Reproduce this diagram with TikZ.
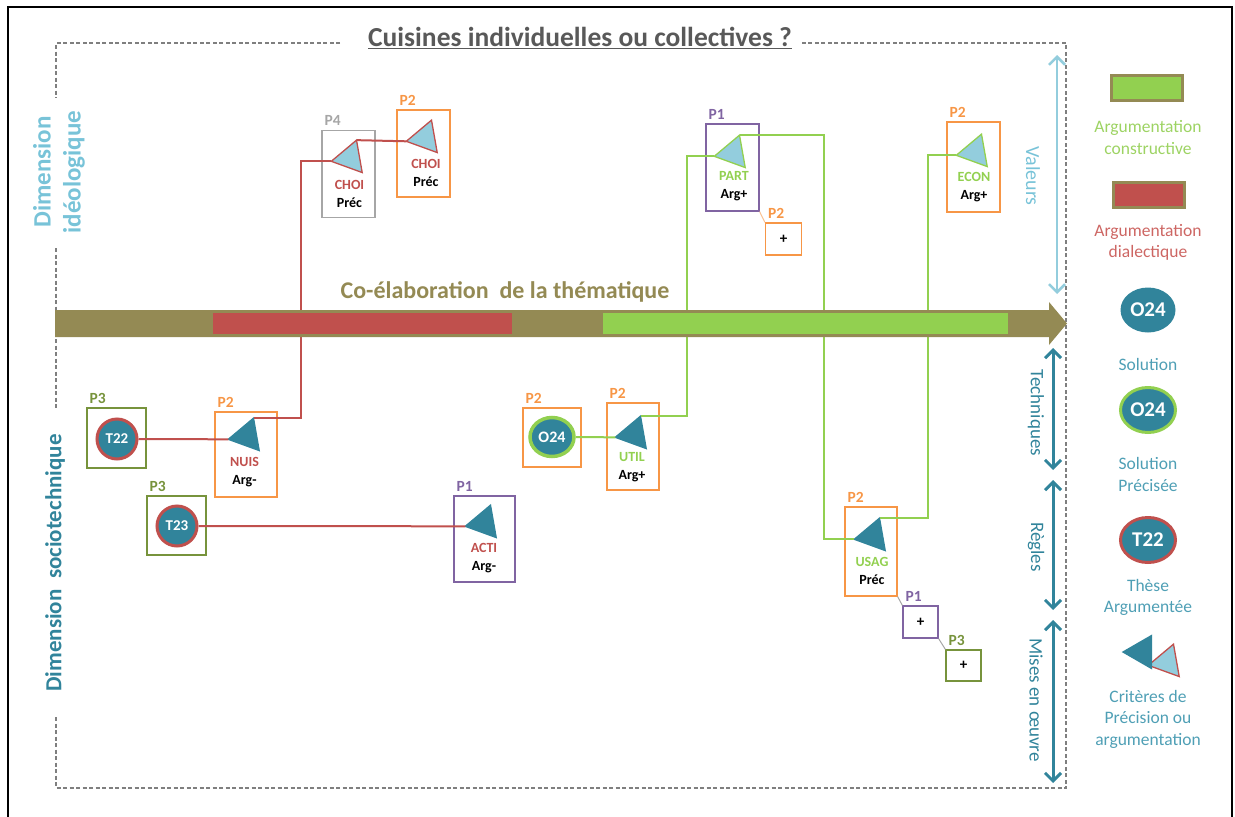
\documentclass[tikz,border=0pt]{standalone}
\usepackage{fontspec}
\setmainfont{Carlito}
\usepackage{tikz}
\usetikzlibrary{arrows.meta,shapes.geometric}

\definecolor{cTeal}{HTML}{31849B}
\definecolor{cTealTxt}{HTML}{4F9FB5}
\definecolor{cSky}{HTML}{93CDDD}
\definecolor{cSkyTxt}{HTML}{78C3D8}
\definecolor{cRed}{HTML}{C0504D}
\definecolor{cRedTxt}{HTML}{CD6663}
\definecolor{cGreen}{HTML}{92D050}
\definecolor{cGreenTxt}{HTML}{9DD363}
\definecolor{cOlive}{HTML}{948A54}
\definecolor{cOrange}{HTML}{F79646}
\definecolor{cPurple}{HTML}{8064A2}
\definecolor{cMoss}{HTML}{77933C}
\definecolor{cGrayBox}{HTML}{A6A6A6}
\definecolor{cFrame}{HTML}{7F7F7F}
\definecolor{cTitle}{HTML}{595959}

\begin{document}
\begin{tikzpicture}[x=1pt, y=-1pt,
  pbox/.style={draw, line width=1.3pt, inner sep=0pt, minimum width=53pt, minimum height=87pt},
  plbl/.style={font=\fontsize{15.5}{17}\selectfont\bfseries, inner sep=1pt, anchor=south west, xshift=2pt, yshift=3pt},
  pOne/.style={draw=cPurple, label={[plbl, text=cPurple]north west:P1}},
  pTwo/.style={draw=cOrange, label={[plbl, text=cOrange]north west:P2}},
  pThree/.style={draw=cMoss, label={[plbl, text=cMoss]north west:P3}},
  pFour/.style={draw=cGrayBox, label={[plbl, text=cGrayBox]north west:P4}},
  plusbox/.style={pbox, minimum width=36pt, minimum height=32pt, font=\fontsize{15}{16}\selectfont\bfseries},
  crit/.style={regular polygon, regular polygon sides=3, shape border rotate=100, minimum size=38pt, inner sep=0pt, outer sep=0pt, line width=1.3pt},
  code/.style={align=center, inner sep=0pt, font=\fontsize{14}{18}\selectfont\bfseries},
  these/.style={circle, fill=cTeal, draw=cRed, line width=3pt, minimum size=40pt, inner sep=0pt, text=white, font=\fontsize{15}{16}\selectfont\bfseries},
  solp/.style={ellipse, fill=cTeal, draw=cGreen, line width=3.5pt, minimum width=44pt, minimum height=39pt, inner sep=0pt, text=white, font=\fontsize{16}{17}\selectfont\bfseries},
  redln/.style={cRed, line width=2pt},
  grnln/.style={cGreen, line width=2pt},
  link/.style={line width=1pt},
  frame/.style={cFrame, line width=1.2pt, dash pattern=on 4pt off 2.5pt},
  dimarr/.style={cTeal, line width=3pt, {Straight Barb[length=8pt,width=16pt]}-{Straight Barb[length=8pt,width=16pt]}},
  dimtxt/.style={cTeal, rotate=-90, font=\fontsize{19}{20}\selectfont},
  legbar/.style={draw=cOlive, line width=3pt, minimum width=71pt, minimum height=25pt, inner sep=0pt},
  legtxt/.style={align=center, text=cTealTxt, inner sep=0pt, font=\fontsize{17.5}{21.5}\selectfont},
  legsol/.style={ellipse, fill=cTeal, minimum width=55pt, minimum height=45pt, inner sep=0pt, text=white, font=\fontsize{21}{22}\selectfont\bfseries}
]
\useasboundingbox (0,0) rectangle (1235,817);
\draw[line width=2pt] (8,7) rectangle (1232,830);

\node[text=cTitle, font=\fontsize{27.5}{31}\selectfont\bfseries] (title) at (580,38) {\underline{Cuisines individuelles ou collectives ?}};
\draw[frame] (340,43) -- (56,43) -- (56,98);
\draw[frame] (56,248) -- (56,410);
\draw[frame] (56,717) -- (56,788) -- (1066,788) -- (1066,43) -- (800,43);

\node[rotate=90, align=center, text=cSkyTxt, font=\fontsize{25}{30}\selectfont\bfseries] (dimIdeo) at (59,172) {Dimension\\idéologique};
\node[rotate=90, text=cTeal, font=\fontsize{23}{25}\selectfont\bfseries] (dimSocio) at (55,563) {Dimension\ \ sociotechnique};

\node[pbox, pFour] (choiA) at (348.5,174) {};
\node[pbox, pTwo] (choiB) at (423.5,153.5) {};
\node[pbox, pThree, minimum width=59pt, minimum height=60pt] (t22b) at (116.5,438) {};
\node[pbox, pThree, minimum width=59pt, minimum height=59pt] (t23b) at (176.5,525.5) {};
\node[pbox, pTwo, minimum width=62pt, minimum height=85pt] (nuis) at (246,454.5) {};
\node[pbox, pOne, minimum width=61pt, minimum height=86pt] (acti) at (484.5,539) {};
\node[pbox, pTwo, minimum width=58pt, minimum height=59pt] (o24b) at (552,437.5) {};
\node[pbox, pTwo, minimum width=52pt] (util) at (633,446.5) {};
\node[pbox, pOne] (part) at (732.5,167.5) {};
\node[plusbox, pTwo] (plusA) at (783.5,239) {+};
\node[pbox, pTwo, minimum height=90pt] (econ) at (973.5,167) {};
\node[pbox, pTwo, minimum width=52pt, minimum height=89pt] (usag) at (871,551.5) {};
\node[plusbox, pOne, minimum width=35pt] (plusB) at (920.5,622) {+};
\node[plusbox, pThree, minimum width=35pt, minimum height=31pt] (plusC) at (963.5,665.5) {+};

\node[crit, fill=cSky, draw=cRed] (choiAT) at (350,158) {};
\node[crit, fill=cSky, draw=cRed] (choiBT) at (425,138) {};
\node[crit, fill=cTeal, draw=cTeal] (nuisT) at (247,436) {};
\node[crit, fill=cTeal, draw=cTeal] (actiT) at (484,523) {};
\node[crit, fill=cTeal, draw=cTeal] (utilT) at (634,434) {};
\node[crit, fill=cSky, draw=cGreen] (partT) at (733,153) {};
\node[crit, fill=cSky, draw=cGreen] (econT) at (975,152) {};
\node[crit, fill=cTeal, draw=cTeal] (usagT) at (873,536) {};

\node[code, text=cRed] (choiAc) at (349.5,194) {CHOI\\\textcolor{black}{Préc}};
\node[code, text=cRed] (choiBc) at (426,173) {CHOI\\\textcolor{black}{Préc}};
\node[code, text=cRed] (nuisc) at (244.5,472) {NUIS\\\textcolor{black}{Arg-}};
\node[code, text=cRed] (actic) at (484,558.5) {ACTI\\\textcolor{black}{Arg-}};
\node[code, text=cGreen] (utilc) at (632,467) {UTIL\\\textcolor{black}{Arg+}};
\node[code, text=cGreen] (partc) at (734,186.5) {PART\\\textcolor{black}{Arg+}};
\node[code, text=cGreen] (econc) at (974,187) {ECON\\\textcolor{black}{Arg+}};
\node[code, text=cGreen] (usagc) at (872,571) {USAG\\\textcolor{black}{Préc}};

\node[these] (t22) at (117,439) {T22};
\node[these] (t23) at (177,526) {T23};
\node[solp] (o24) at (552,437) {O24};

\coordinate (rx) at (301,0);
\coordinate (gxA) at (687,0);
\coordinate (gxB) at (824,0);
\coordinate (gxC) at (928,0);
\draw[redln] (t22) -- (nuisT.corner 1);
\draw[redln] (nuisT.corner 3) -| (rx |- choiAT.corner 1) -- (choiAT.corner 1);
\draw[redln] (choiAT.corner 3) -- (choiBT.corner 1);
\draw[redln] (t23) -- (actiT.corner 1);
\draw[grnln] (o24) -- (utilT.corner 1);
\draw[grnln] (utilT.corner 3) -| (gxA |- partT.corner 1) -- (partT.corner 1);
\draw[grnln] (partT.corner 3) -| (gxB |- usagT.corner 1) -- (usagT.corner 1);
\draw[grnln] (econT.corner 1) -| (gxC |- usagT.corner 3) -- (usagT.corner 3);
\draw[link, cOrange!60] (part.south east) -- (plusA.north west);
\draw[link, cGrayBox] (usag.south east) -- (plusB.north west);
\draw[link, cGrayBox] (plusB.south east) -- (plusC.north west);

\fill[cOlive] (55,310) -- (1049,310) -- (1049,302) -- (1067,323.5) -- (1049,345) -- (1049,337) -- (55,337) -- cycle;
\fill[cRed] (213,313) rectangle (512,334);
\fill[cGreen] (603,313) rectangle (1008,334);
\node[text=cOlive, font=\fontsize{24}{27}\selectfont\bfseries] (theme) at (505,292) {Co-élaboration\ \ de la thématique};

\draw[cSky, line width=2.5pt, {Straight Barb[length=8pt,width=16pt]}-{Straight Barb[length=8pt,width=16pt]}] (1057,55) -- (1057,294);
\node[rotate=-90, text=cSkyTxt, font=\fontsize{20}{22}\selectfont] (valeurs) at (1033,176) {Valeurs};
\draw[dimarr] (1053,348) -- (1053,470);
\node[dimtxt] (techniques) at (1036,413) {Techniques};
\draw[dimarr] (1053,480) -- (1053,610);
\node[dimtxt] (regles) at (1036,547) {Règles};
\draw[dimarr] (1053,620) -- (1053,783);
\node[dimtxt] (mises) at (1036,700) {Mises en œuvre};

\node[legbar, fill=cGreen] (legCons) at (1147,87.5) {};
\node[legtxt, text=cGreenTxt] (legConsT) at (1148,137.5) {Argumentation\\constructive};
\node[legbar, fill=cRed] (legDial) at (1149,195) {};
\node[legtxt, text=cRedTxt] (legDialT) at (1148,242.5) {Argumentation\\dialectique};
\node[legsol] (legSol) at (1148,310) {O24};
\node[legtxt] (legSolT) at (1148,364) {Solution};
\node[legsol, draw=cGreen, line width=3pt] (legSolP) at (1148,410) {O24};
\node[legtxt] (legSolPT) at (1148,474.5) {Solution\\Précisée};
\node[legsol, draw=cRed, line width=3pt] (legThese) at (1148,540) {T22};
\node[legtxt] (legTheseT) at (1148,597.5) {Thèse\\Argumentée};
\node[crit, fill=cSky, draw=cRed] (legCritB) at (1167,662) {};
\node[crit, fill=cTeal, draw=cTeal, shape border rotate=90] (legCritA) at (1142,652) {};
\node[legtxt] (legCritT) at (1148,719) {Critères de\\Précision ou\\argumentation};
\end{tikzpicture}
\end{document}
